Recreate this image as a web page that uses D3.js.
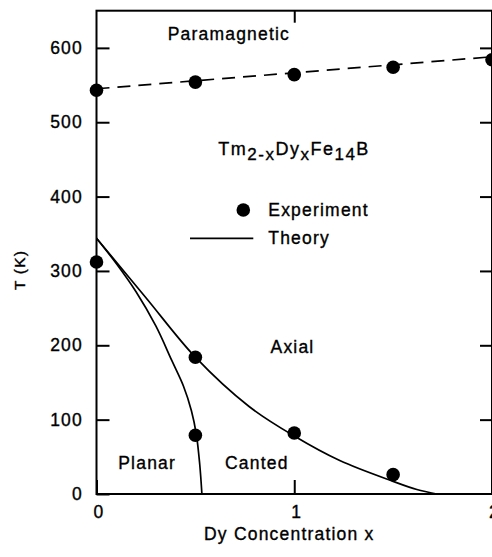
<!DOCTYPE html>
<html>
<head>
<meta charset="utf-8">
<script src="https://cdn.jsdelivr.net/npm/d3@7"></script>
<style>
  html, body { margin: 0; padding: 0; background: #fff; }
  svg { display: block; }
  text { font-family: "Liberation Sans", Arial, Helvetica, sans-serif; fill: #000; stroke: #000; stroke-width: 0.35px; }
</style>
</head>
<body>
<svg id="chart" width="492" height="557"></svg>
<script>
// Tm(2-x)Dy(x)Fe14B magnetic phase diagram

// Axis ticks
const xTicks = [0, 1, 2];
const yTicks = [0, 100, 200, 300, 400, 500, 600];

// Experimental Curie temperatures (paramagnetic boundary)
const curieX = [0, 0.5, 1.0, 1.5, 2.0];
const curieT = [543, 554, 564, 574, 584];

// Experimental spin-reorientation temperatures
const spinX = [0, 0.5, 1.0, 1.5, 0.5];
const spinT = [312, 184, 82, 26, 79];

// Curie-temperature trend (dashed)
const curieFitX = [0, 2];
const curieFitT = [545, 588];

// Theory: axial / canted boundary
const axialX = [0, 0.25, 0.5, 0.77, 1.0, 1.23, 1.5, 1.62, 1.72];
const axialT = [344, 264, 184, 118, 78, 45, 17, 6, 0];

// Theory: planar / canted boundary
const planarX = [0, 0.1, 0.2, 0.3, 0.38, 0.44, 0.48, 0.505, 0.522, 0.533];
const planarT = [344, 310, 272, 226, 180, 145, 112, 80, 40, 0];

// Region labels
const regionNames = ["Paramagnetic", "Axial", "Planar", "Canted"];
const regionX = [0.36, 0.88, 0.11, 0.65];
const regionT = [610, 190, 33, 33];

// Compound formula: [text, is subscript]
const formulaParts = [["Tm", false], ["2-x", true], ["Dy", false], ["x", true], ["Fe", false], ["14", true], ["B", false]];

const svg = d3.select("#chart");
const plotLeft = 96.5, plotRight = 492, plotTop = 10.7, plotBottom = 494;

const x = d3.scaleLinear().domain([0, 2]).range([plotLeft, plotRight]);
const y = d3.scaleLinear().domain([0, 650]).range([plotBottom, plotTop]);

const FS = 17.5, LS = 1.2;

// Frame
svg.append("rect")
  .attr("x", plotLeft).attr("y", plotTop)
  .attr("width", plotRight - plotLeft).attr("height", plotBottom - plotTop)
  .attr("fill", "none").attr("stroke", "#000").attr("stroke-width", 2);

function styleAxis(g, labels) {
  g.select(".domain").remove();
  g.selectAll(".tick line").attr("stroke", "#000").attr("stroke-width", 2);
  if (!labels) g.selectAll(".tick text").remove();
  else g.selectAll(".tick text")
        .attr("font-size", FS).attr("letter-spacing", LS)
        .attr("font-family", "'Liberation Sans', Arial, sans-serif")
        .attr("fill", "#000");
}

// Left axis with labels
svg.append("g").attr("transform", `translate(${plotLeft},0)`)
  .call(d3.axisLeft(y).tickValues(yTicks).tickSize(-13).tickPadding(13.5))
  .call(g => styleAxis(g, true));

// Right axis ticks
svg.append("g").attr("transform", `translate(${plotRight},0)`)
  .call(d3.axisRight(y).tickValues(yTicks.filter(v => v > 0)).tickSize(-12))
  .call(g => styleAxis(g, false));

// Bottom axis with labels
svg.append("g").attr("transform", `translate(0,${plotBottom})`)
  .call(d3.axisBottom(x).tickValues(xTicks).tickFormat(d3.format("d")).tickSize(-14).tickPadding(12))
  .call(g => styleAxis(g, true))
  .call(g => g.selectAll(".tick text").attr("dx", 2));

// Top axis ticks
svg.append("g").attr("transform", `translate(0,${plotTop})`)
  .call(d3.axisTop(x).tickValues(xTicks.filter(v => v > 0 && v < 2)).tickSize(-12))
  .call(g => styleAxis(g, false));

// Axis titles
svg.append("text")
  .attr("x", (plotLeft + plotRight) / 2 - 5).attr("y", 540)
  .attr("text-anchor", "middle").attr("font-size", FS).attr("letter-spacing", LS)
  .text("Dy Concentration x");

svg.append("text")
  .attr("transform", "translate(25,270) rotate(-90)")
  .attr("text-anchor", "middle").attr("font-size", 15.5).attr("letter-spacing", LS)
  .text("T (K)");

const line = d3.line().x(d => x(d[0])).y(d => y(d[1]));

// Dashed Curie trend
svg.append("path")
  .datum(d3.zip(curieFitX, curieFitT))
  .attr("d", line)
  .attr("fill", "none").attr("stroke", "#000").attr("stroke-width", 1.7)
  .attr("stroke-dasharray", "13,8");

// Theory curves
const smooth = d3.line().x(d => x(d[0])).y(d => y(d[1])).curve(d3.curveCatmullRom.alpha(0.5));
[[axialX, axialT], [planarX, planarT]].forEach(([xs, ts]) => {
  svg.append("path")
    .datum(d3.zip(xs, ts))
    .attr("d", smooth)
    .attr("fill", "none").attr("stroke", "#000").attr("stroke-width", 1.7);
});

// Experimental points
const pts = d3.zip(curieX, curieT).concat(d3.zip(spinX, spinT));
svg.append("g").selectAll("circle")
  .data(pts).join("circle")
  .attr("cx", d => x(d[0])).attr("cy", d => y(d[1]))
  .attr("r", 6.8).attr("fill", "#000");

// Region labels
svg.append("g").selectAll("text")
  .data(d3.zip(regionNames, regionX, regionT)).join("text")
  .attr("x", d => x(d[1])).attr("y", d => y(d[2]))
  .attr("font-size", FS).attr("letter-spacing", LS)
  .text(d => d[0]);

// Compound formula with subscripts, set as one flowing line
const formula = svg.append("text").attr("x", 218.3).attr("y", 155)
  .attr("font-size", 18).attr("letter-spacing", 1.5);
let lowered = false;
formulaParts.forEach(([t, sub]) => {
  const shift = sub === lowered ? 0 : (sub ? 5 : -5);
  lowered = sub;
  formula.append("tspan")
    .attr("dy", shift)
    .attr("font-size", sub ? 17 : 18)
    .text(t);
});

// Legend
const legend = svg.append("g");
legend.append("circle").attr("cx", 243.3).attr("cy", 210).attr("r", 6.8).attr("fill", "#000");
legend.append("text").attr("x", 268.3).attr("y", 215.5)
  .attr("font-size", FS).attr("letter-spacing", LS).text("Experiment");
legend.append("line").attr("x1", 190).attr("x2", 253.3).attr("y1", 238.3).attr("y2", 238.3)
  .attr("stroke", "#000").attr("stroke-width", 1.7);
legend.append("text").attr("x", 268.3).attr("y", 244)
  .attr("font-size", FS).attr("letter-spacing", LS).text("Theory");
</script>
</body>
</html>
